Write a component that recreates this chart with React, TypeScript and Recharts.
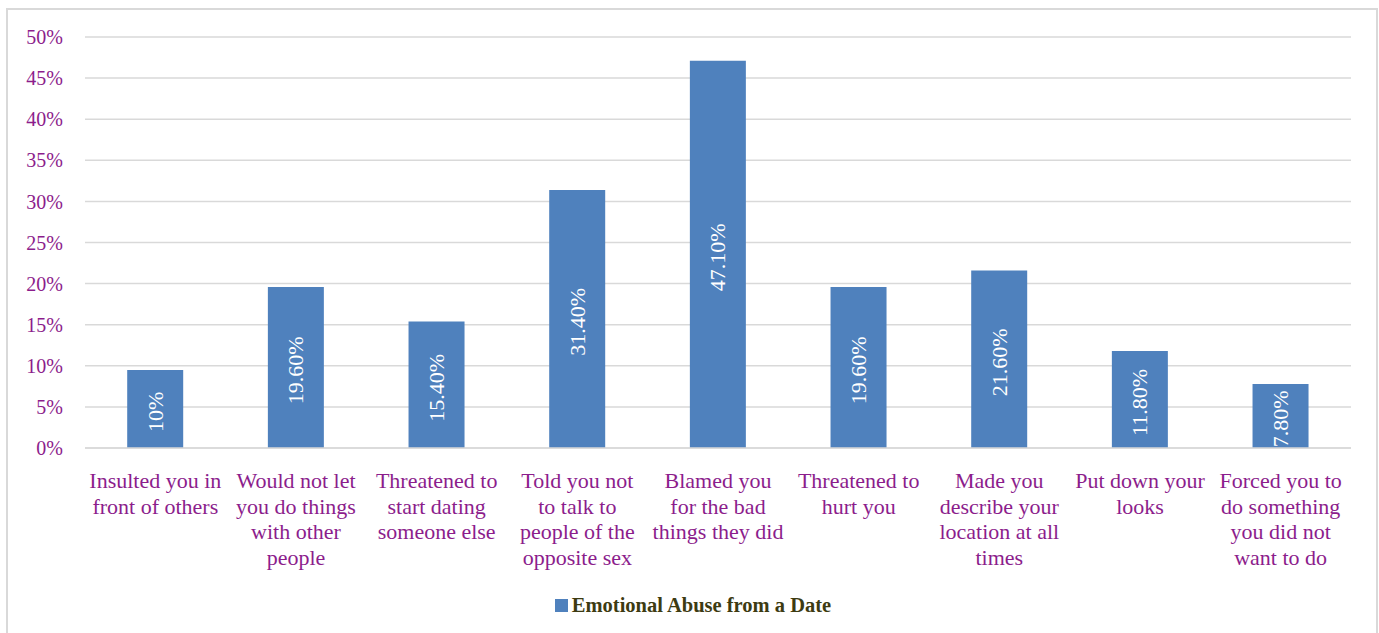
import React from 'react';
import { BarChart, Bar, XAxis, YAxis, CartesianGrid, Legend, LabelList } from 'recharts';

const categories = [
  'Insulted you in|front of others',
  'Would not let|you do things|with other|people',
  'Threatened to|start dating|someone else',
  'Told you not|to talk to|people of the|opposite sex',
  'Blamed you|for the bad|things they did',
  'Threatened to|hurt you',
  'Made you|describe your|location at all|times',
  'Put down your|looks',
  'Forced you to|do something|you did not|want to do',
];
const values = [9.5, 19.6, 15.4, 31.4, 47.1, 19.6, 21.6, 11.8, 7.8];
const valueLabels = ['10%', '19.60%', '15.40%', '31.40%', '47.10%', '19.60%', '21.60%', '11.80%', '7.80%'];
const yTicks = [0, 5, 10, 15, 20, 25, 30, 35, 40, 45, 50];
const seriesName = 'Emotional Abuse from a Date';

const data = categories.map((c, i) => ({ name: c, value: values[i], label: valueLabels[i] }));

const FONT = '"Liberation Serif", "Times New Roman", serif';
const PURPLE = '#8C1D8C';
const BLUE = '#4F81BD';

// multi-line category labels, lines split on "|"
const CategoryTick = (props: any) => {
  const { x, y, payload } = props;
  const lines = String(payload.value).split('|');
  return (
    <text x={x} y={y} textAnchor="middle" fill={PURPLE} fontFamily={FONT} fontSize={22}>
      {lines.map((l, i) => (
        <tspan key={i} x={x} y={y + 40 + i * 25.7}>{l}</tspan>
      ))}
    </text>
  );
};

// rotated white value label, clipped to its bar
const BarLabel = (props: any) => {
  const { x, y, width, height, value, index } = props;
  const cx = x + width / 2;
  const cy = y + height / 2 + 3;
  const id = `clip-bar-${index}`;
  return (
    <g>
      <clipPath id={id}>
        <rect x={x} y={y} width={width} height={height} />
      </clipPath>
      <g clipPath={`url(#${id})`}>
        <text
          x={cx}
          y={cy}
          transform={`rotate(-90 ${cx} ${cy})`}
          textAnchor="middle"
          dominantBaseline="central"
          fill="#ffffff"
          fontFamily={FONT}
          fontSize={22}
        >
          {value}
        </text>
      </g>
    </g>
  );
};

const LegendContent = () => (
  <div style={{ display: 'flex', justifyContent: 'center', alignItems: 'center', paddingTop: 6 }}>
    <span style={{ display: 'inline-block', width: 13, height: 13, background: BLUE, marginRight: 4 }} />
    <span style={{ fontFamily: FONT, fontWeight: 'bold', fontSize: 20.5, color: '#3D3B12' }}>{seriesName}</span>
  </div>
);

export default function App() {
  return (
    <div style={{ position: 'absolute', left: 6, top: 8, width: 1372, height: 640, border: '2px solid #d9d9d9', boxSizing: 'border-box', background: '#fff' }}>
      <BarChart
        width={1370}
        height={624}
        data={data}
        margin={{ top: 27, right: 27, left: 0, bottom: 0 }}
        barCategoryGap="30%"
      >
        <CartesianGrid vertical={false} stroke="#d9d9d9" strokeWidth={1.5} />
        <XAxis
          dataKey="name"
          interval={0}
          height={140}
          tickLine={false}
          tickSize={0}
          tickMargin={0}
          axisLine={{ stroke: '#d9d9d9', strokeWidth: 1.5 }}
          tick={<CategoryTick />}
        />
        <YAxis
          width={77}
          domain={[0, 50]}
          ticks={yTicks}
          tickFormatter={(v) => `${v}%`}
          axisLine={false}
          tickLine={false}
          tickSize={0}
          tickMargin={22}
          tick={{ fill: PURPLE, fontFamily: FONT, fontSize: 20 }}
        />
        <Legend
          verticalAlign="bottom"
          height={46}
          wrapperStyle={{ left: 0, width: 1370 }}
          content={<LegendContent />}
        />
        <Bar dataKey="value" name={seriesName} fill={BLUE} isAnimationActive={false}>
          <LabelList dataKey="label" content={<BarLabel />} />
        </Bar>
      </BarChart>
    </div>
  );
}
